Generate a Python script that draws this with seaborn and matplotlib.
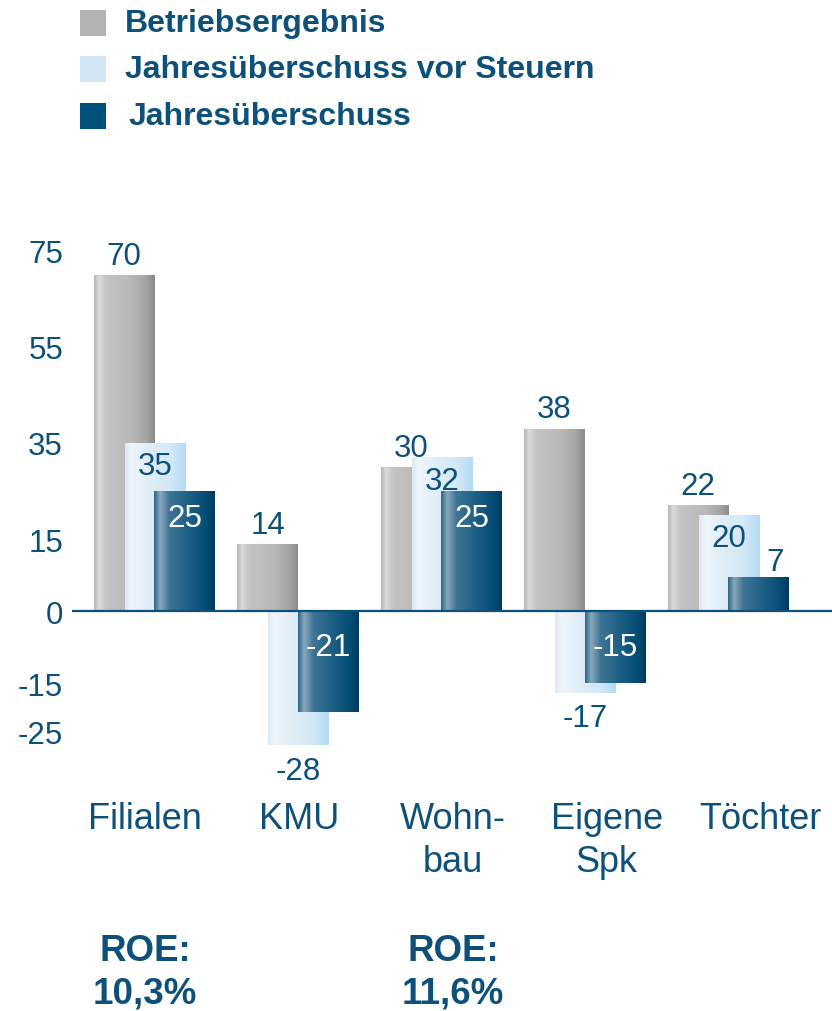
import numpy as np
import pandas as pd
import matplotlib
matplotlib.use("Agg")
import matplotlib.pyplot as plt
import matplotlib.transforms as mtrans
import seaborn as sns
from matplotlib.colors import LinearSegmentedColormap
from matplotlib.patches import Rectangle

# ---------------- data ----------------
categories = ["Filialen", "KMU", "Wohnbau", "Eigene Spk", "Töchter"]
tick_labels = ["Filialen", "KMU", "Wohn-\nbau", "Eigene\nSpk", "Töchter"]
series_names = ["Betriebsergebnis", "Jahresüberschuss vor Steuern", "Jahresüberschuss"]
betriebsergebnis = [70, 14, 30, 38, 22]
vor_steuern = [35, -28, 32, -17, 20]
jahresueberschuss = [25, -21, 25, -15, 7]
y_ticks = [75, 55, 35, 15, 0, -15, -25]
roe_titles = ["ROE:", "ROE:"]
roe_values = ["10,3%", "11,6%"]
roe_categories = ["Filialen", "Wohnbau"]

# ---------------- style ----------------
sns.set_style("white")
plt.rcParams["font.family"] = ["Liberation Sans", "DejaVu Sans"]
TXT = "#0d5079"

W, H = 832, 1012
fig = plt.figure(figsize=(W / 100, H / 100), dpi=100)
ax_left, ax_right, ax_top, ax_bottom = 72, 832, 228, 756
ax = fig.add_axes([ax_left / W, 1 - ax_bottom / H, (ax_right - ax_left) / W, (ax_bottom - ax_top) / H])

grey_cmap = LinearSegmentedColormap.from_list("g", [
    (0, "#b4b4b4"), (0.08, "#dcdcdc"), (0.2, "#c4c4c4"), (0.6, "#b9b9b9"), (0.85, "#a5a5a5"), (1, "#8b8b8b")])
light_cmap = LinearSegmentedColormap.from_list("l", [
    (0, "#d9e9f5"), (0.1, "#eff6fb"), (0.4, "#e0edf7"), (0.75, "#d3e8f6"), (1, "#b3dbf6")])
dark_cmap = LinearSegmentedColormap.from_list("d", [
    (0, "#2e6484"), (0.1, "#8aa9bc"), (0.25, "#3e7595"), (0.6, "#1b5d83"), (0.85, "#044d75"), (1, "#003a5e")])

legend_colors = ["#b3b3b3", "#d1e7f5", "#004f7b"]
series = [
    (betriebsergebnis, grey_cmap, -0.215, 2),
    (vor_steuern, light_cmap, 0.0, 3),
    (jahresueberschuss, dark_cmap, 0.205, 4),
]
bar_width = 0.42
grad = np.linspace(0, 1, 256).reshape(1, -1)

bar_patches = []
for (vals, cmap, off, z), col in zip(series, legend_colors):
    n0 = len(ax.patches)
    df = pd.DataFrame({"cat": categories, "val": vals})
    sns.barplot(data=df, x="cat", y="val", order=categories, width=bar_width,
                color=col, errorbar=None, ax=ax, saturation=1)
    new = ax.patches[n0:]
    for p in new:
        p.set_x(p.get_x() + off)
        p.set_linewidth(0)
        p.set_zorder(z)
        x0, x1 = p.get_x(), p.get_x() + p.get_width()
        h = p.get_height()
        y0, y1 = min(0, h), max(0, h)
        im = ax.imshow(grad, cmap=cmap, extent=[x0, x1, y0, y1], aspect="auto",
                       zorder=z + 0.1, interpolation="bicubic")
        im.set_clip_path(p)
    bar_patches.append(new)

ax.set_xlim(-0.578, 4.718)
ax.set_ylim(-30, 80)
ax.axhline(0, color=TXT, lw=1.6, zorder=10)

for s in ax.spines.values():
    s.set_visible(False)

ax.set_yticks(y_ticks)
ax.set_yticklabels([str(t) for t in y_ticks])
ax.tick_params(axis="y", length=0, pad=6.5, labelsize=22.5, labelcolor=TXT)

label_pos = [i * 1.073 - 0.07 for i in range(len(categories))]
ax.set_xticks(label_pos)
ax.set_xticklabels(tick_labels, linespacing=1.3)
ax.tick_params(axis="x", length=0, pad=33, labelsize=26, labelcolor=TXT)
ax.set_xlabel("")
ax.set_ylabel("")

# ---------------- value labels ----------------
def lab(p, text, dy, color, dx=0):
    cx = p.get_x() + p.get_width() / 2
    ax.annotate(text, (cx, p.get_height()), xytext=(dx, dy), textcoords="offset points",
                ha="center", va="baseline", fontsize=22.5, color=color, zorder=20)

for p, v in zip(bar_patches[0], betriebsergebnis):
    lab(p, str(v), 8, TXT)
for p, v in zip(bar_patches[1], vor_steuern):
    if v >= 0:
        lab(p, str(v), -22.5, TXT)
    else:
        lab(p, str(v), -24, TXT)
for p, v in zip(bar_patches[2], jahresueberschuss):
    cx = p.get_x() + p.get_width() / 2
    if v >= 10:
        lab(p, str(v), -25, "white")
    elif v >= 0:
        lab(p, str(v), 5, TXT, dx=12)
    else:
        ax.annotate(str(v), (cx, 0), xytext=(0, -32), textcoords="offset points",
                    ha="center", va="baseline", fontsize=22.5, color="white", zorder=20)

# ---------------- legend ----------------
legend_y = [24, 70, 117]
text_x = [125, 125, 129]
for name, col, yc, tx in zip(series_names, legend_colors, legend_y, text_x):
    fig.add_artist(Rectangle((80 / W, 1 - (yc + 13) / H), 26 / W, 26 / H,
                             transform=fig.transFigure, color=col, lw=0))
    fig.text(tx / W, 1 - yc / H, name, ha="left", va="center", fontsize=23,
             fontweight="bold", color=TXT)

# ---------------- ROE ----------------
trans = mtrans.blended_transform_factory(ax.transData, fig.transFigure)
for t, v, c in zip(roe_titles, roe_values, roe_categories):
    xpos = label_pos[categories.index(c)]
    fig.text(xpos, 1 - 961 / H, t, transform=trans, ha="center", va="baseline",
             fontsize=26.5, fontweight="bold", color=TXT)
    fig.text(xpos, 1 - 1004 / H, v, transform=trans, ha="center", va="baseline",
             fontsize=26.5, fontweight="bold", color=TXT)

fig.savefig("out.png", dpi=100)
